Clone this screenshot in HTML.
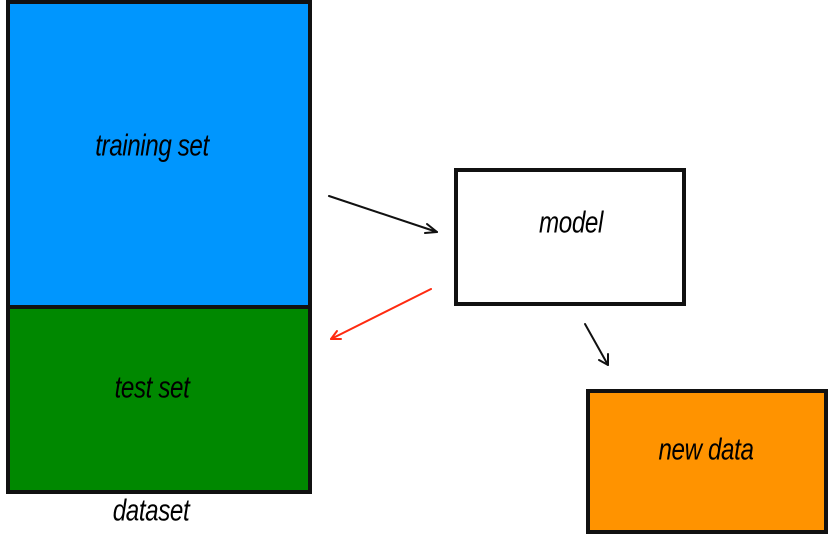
<!DOCTYPE html>
<html><head><meta charset="utf-8"><style>
body{margin:0;width:834px;height:541px;background:#fff;overflow:hidden;position:relative;font-family:"Liberation Sans",sans-serif;font-style:italic;}
.b{position:absolute;box-sizing:border-box;border:4px solid #111;}
.t{position:absolute;font-size:31px;line-height:31px;color:#000;white-space:nowrap;transform:translate(-50%,-50%) scaleX(0.78);letter-spacing:-0.5px}
</style></head><body>
<div class="b" style="left:6px;top:0;width:306px;height:309px;background:#0096fe;"></div>
<div class="b" style="left:6px;top:305px;width:306px;height:189px;background:#008800;"></div>
<div class="b" style="left:454px;top:168px;width:232px;height:138px;background:#fff;"></div>
<div class="b" style="left:586px;top:389px;width:242px;height:145px;background:#ff9300;"></div>
<div class="t" style="left:152px;top:145px;">training set</div>
<div class="t" style="left:152px;top:387px;">test set</div>
<div class="t" style="left:151px;top:510px;">dataset</div>
<div class="t" style="left:571px;top:222px;">model</div>
<div class="t" style="left:706px;top:449px;">new data</div>
<svg width="834" height="541" style="position:absolute;left:0;top:0">
<g fill="none" stroke-width="2" stroke-linecap="round" stroke-linejoin="round">
<line x1="329" y1="196" x2="437" y2="232" stroke="#111"/>
<polyline points="427,224 437,232 425,233" stroke="#111"/>
<line x1="431" y1="289" x2="331" y2="339" stroke="#ff2a10"/>
<polyline points="337,331 331,339 341,339" stroke="#ff2a10"/>
<line x1="585" y1="324" x2="608" y2="365" stroke="#111"/>
<polyline points="599,360 608,365 608,354" stroke="#111"/>
</g></svg>
</body></html>
